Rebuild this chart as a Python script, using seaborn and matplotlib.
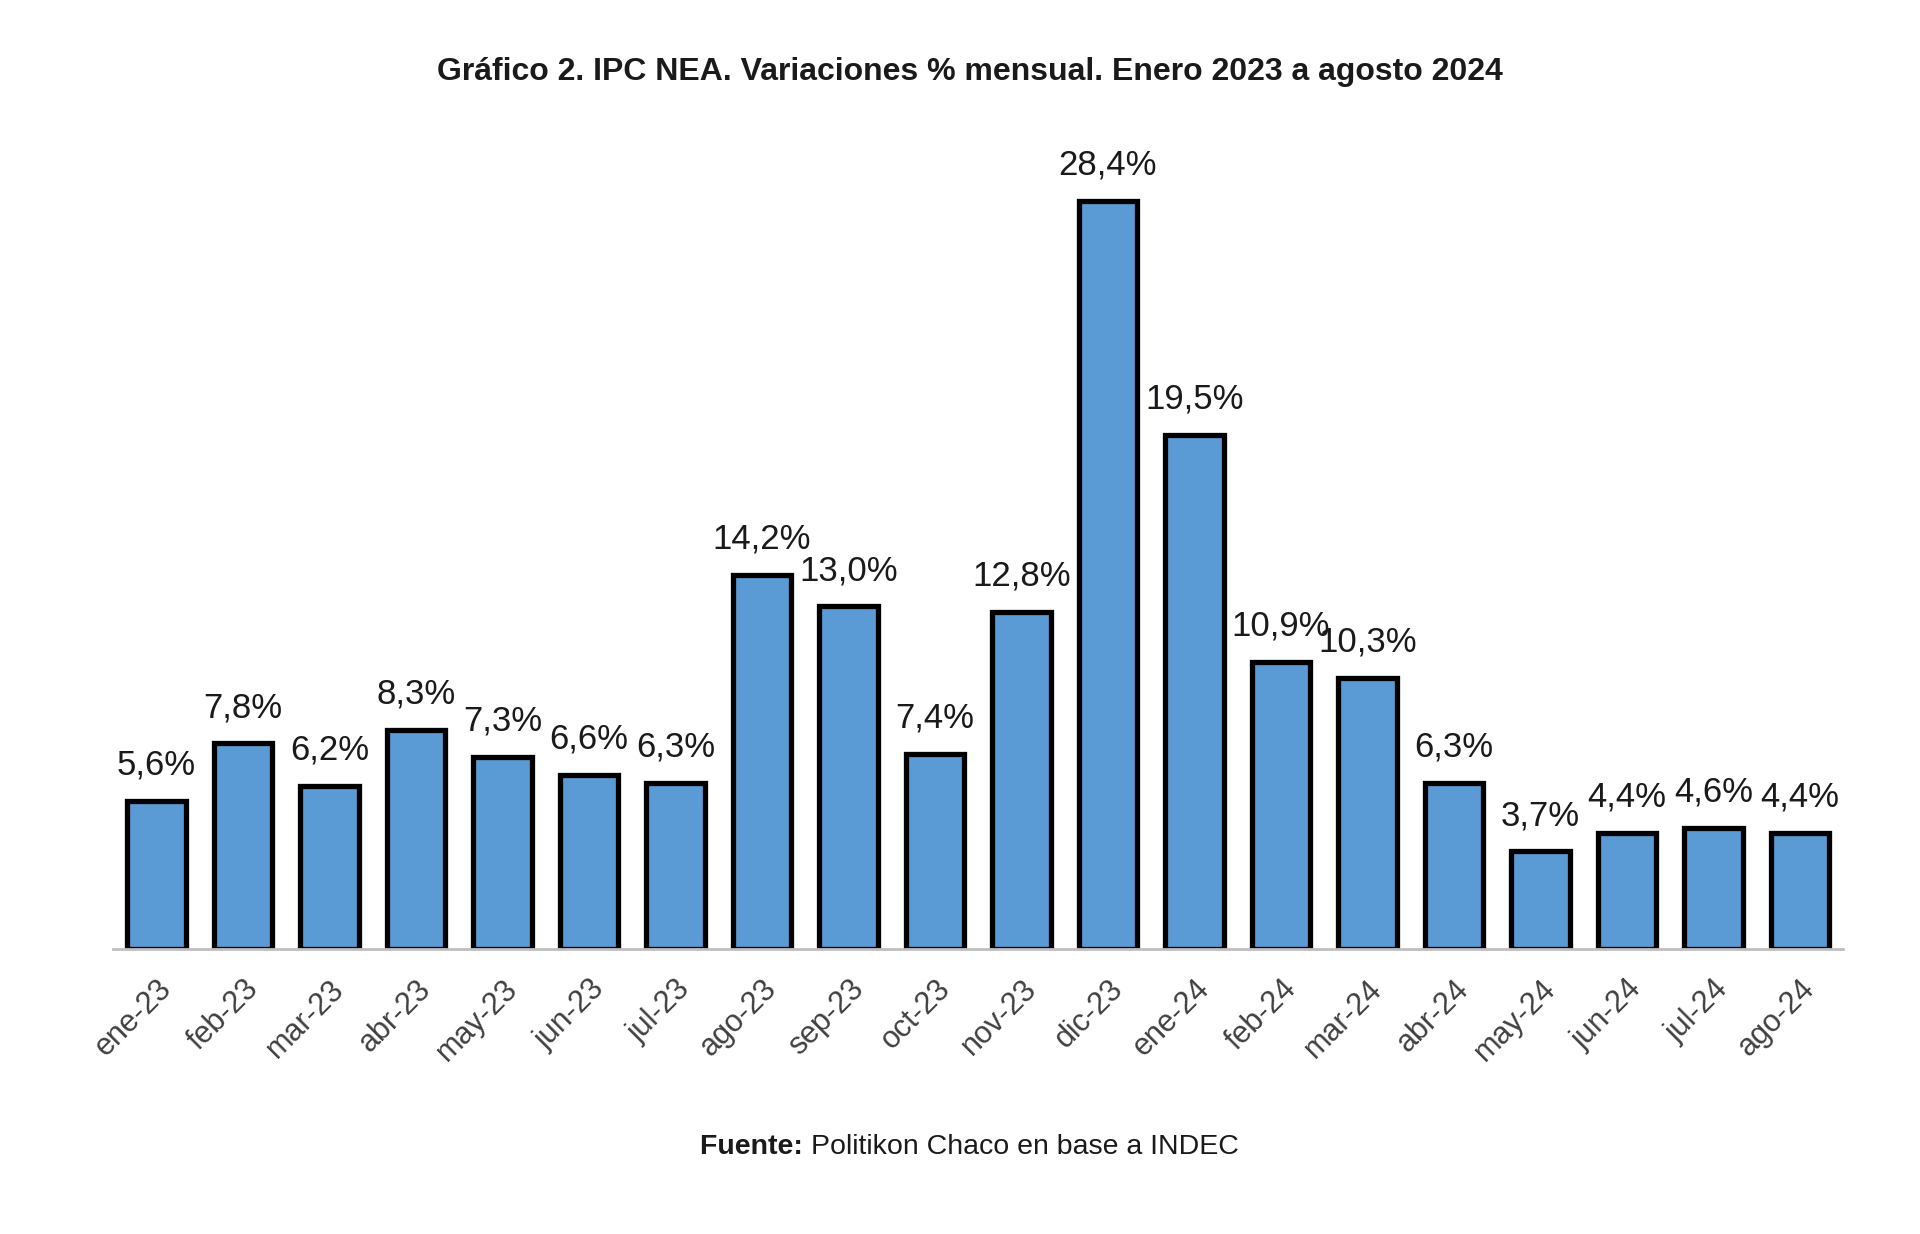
import matplotlib
matplotlib.use("Agg")
import matplotlib.pyplot as plt
import seaborn as sns
import numpy as np

months = ["ene-23", "feb-23", "mar-23", "abr-23", "may-23", "jun-23", "jul-23",
          "ago-23", "sep-23", "oct-23", "nov-23", "dic-23", "ene-24", "feb-24",
          "mar-24", "abr-24", "may-24", "jun-24", "jul-24", "ago-24"]
values = [5.6, 7.8, 6.2, 8.3, 7.3, 6.6, 6.3, 14.2, 13.0, 7.4, 12.8, 28.4, 19.5,
          10.9, 10.3, 6.3, 3.7, 4.4, 4.6, 4.4]

title = "Gráfico 2. IPC NEA. Variaciones % mensual. Enero 2023 a agosto 2024"

sns.set_theme(style="white")
plt.rcParams['font.family'] = ['Liberation Sans', 'DejaVu Sans']

fig = plt.figure(figsize=(19.2, 12.34), dpi=100)
ax = fig.add_axes([0.059, 0.231, 0.901, 0.649])

sns.barplot(x=months, y=values, color="#5B9BD5", saturation=1, width=0.68,
            edgecolor="black", linewidth=3.8, ax=ax)

labels = [f"{v:.1f}%".replace(".", ",") for v in values]
ax.bar_label(ax.containers[0], labels=labels, padding=14, fontsize=25,
             color="#1a1a1a")

ax.set_xlim(-0.5, len(months) - 0.5)
ax.set_ylim(0, 30.4)
ax.set_yticks([])
ax.set_xlabel("")
ax.set_ylabel("")
for s in ["left", "right", "top"]:
    ax.spines[s].set_visible(False)
ax.spines["bottom"].set_color("#BFBFBF")
ax.spines["bottom"].set_linewidth(2)

ax.set_xticks(np.arange(len(months)))
ax.set_xticklabels(months, rotation=45, ha="right", rotation_mode="anchor",
                   fontsize=22, color="#404040")
ax.tick_params(axis="x", which="major", length=0, pad=18)
ax.set_xticks(np.arange(len(months) + 1) - 0.5, minor=True)
ax.tick_params(axis="x", which="minor", length=10, width=2, color="#BFBFBF",
               direction="out")

fig.text(0.505, 0.942, title, ha="center", va="center", fontsize=23,
         fontweight="bold", color="#1a1a1a")

t1 = fig.text(0.3645, 0.0645, "Fuente: ", ha="left", va="baseline", fontsize=20.5,
              fontweight="bold", color="#1a1a1a")
ax.annotate("Politikon Chaco en base a INDEC", xy=(1, 0), xycoords=t1,
            ha="left", va="bottom", fontsize=20.5, color="#1a1a1a",
            annotation_clip=False)

fig.savefig("out.png", dpi=100, facecolor="white")
